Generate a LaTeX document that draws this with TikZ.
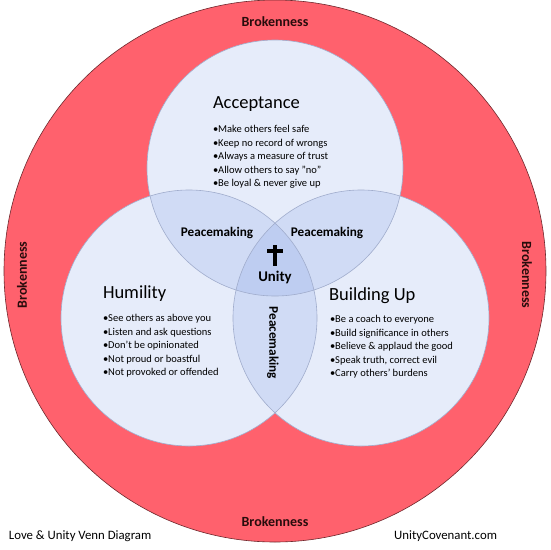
\documentclass[tikz,border=0pt]{standalone}
\usepackage{fontspec}
\setmainfont{Carlito}
\definecolor{broken}{RGB}{255,97,109}
\definecolor{brokenline}{RGB}{110,40,45}
\definecolor{circfill}{RGB}{88,128,222}
\definecolor{circline}{RGB}{160,172,204}
\definecolor{darktext}{RGB}{40,12,12}
\begin{document}
\begin{tikzpicture}[x=1pt,y=-1pt,
  every node/.style={inner sep=0pt, outer sep=0pt},
  ctitle/.style={anchor=west, font=\fontsize{18.5}{20}\selectfont},
  clist/.style={anchor=base west, align=left, font=\fontsize{10.5}{13.4}\selectfont},
  plabel/.style={font=\bfseries\fontsize{13.2}{15}\selectfont},
  blabel/.style={font=\bfseries\fontsize{14}{16}\selectfont, text=darktext},
  foot/.style={font=\fontsize{12.8}{15}\selectfont}]
\useasboundingbox (0,0) rectangle (550,550);
\fill[white] (0,0) rectangle (550,550);
\draw[fill=broken, draw=brokenline, line width=0.6pt] (275,271) circle (271pt);
\fill[white] (275,168) circle (128pt);
\fill[white] (189,318) circle (128pt);
\fill[white] (361,318) circle (128pt);
\begin{scope}[fill opacity=0.15]
\fill[circfill] (275,168) circle (128pt);
\fill[circfill] (189,318) circle (128pt);
\fill[circfill] (361,318) circle (128pt);
\end{scope}
\draw[circline, line width=0.6pt] (275,168) circle (128pt);
\draw[circline, line width=0.6pt] (189,318) circle (128pt);
\draw[circline, line width=0.6pt] (361,318) circle (128pt);

\node[blabel] (btop) at (275,22) {Brokenness};
\node[blabel] (bbot) at (275,522) {Brokenness};
\node[blabel, rotate=90] (bleft) at (22,275) {Brokenness};
\node[blabel, rotate=-90] (bright) at (527,275) {Brokenness};

\node[ctitle] (acc) at (213,104) {Acceptance};
\node[clist] (acclist) at (213,186.5) {\textbullet Make others feel safe\\\textbullet Keep no record of wrongs\\\textbullet Always a measure of trust\\\textbullet Allow others to say "no"\\\textbullet Be loyal \& never give up};

\node[ctitle] (hum) at (103,294) {Humility};
\node[clist] (humlist) at (103,375.5) {\textbullet See others as above you\\\textbullet Listen and ask questions\\\textbullet Don't be opinionated\\\textbullet Not proud or boastful\\\textbullet Not provoked or offended};

\node[ctitle] (bld) at (329,296) {Building Up};
\node[clist] (bldlist) at (330,376.5) {\textbullet Be a coach to everyone\\\textbullet Build significance in others\\\textbullet Believe \& applaud the good\\\textbullet Speak truth, correct evil\\\textbullet Carry others' burdens};

\node[plabel] (pmleft) at (217,233) {Peacemaking};
\node[plabel] (pmright) at (327,233) {Peacemaking};
\node[plabel, rotate=-90] (pmbot) at (273,343) {Peacemaking};
\node[font=\bfseries\fontsize{14.8}{16}\selectfont] (unity) at (275,277) {Unity};
\fill[black] (272.8,245) rectangle (277.4,265.5);
\fill[black] (266.8,249) rectangle (283.3,253.2);

\node[foot, anchor=west] (ftl) at (9,536) {Love \& Unity Venn Diagram};
\node[foot, anchor=east] (ftr) at (497,536) {UnityCovenant.com};
\end{tikzpicture}
\end{document}
